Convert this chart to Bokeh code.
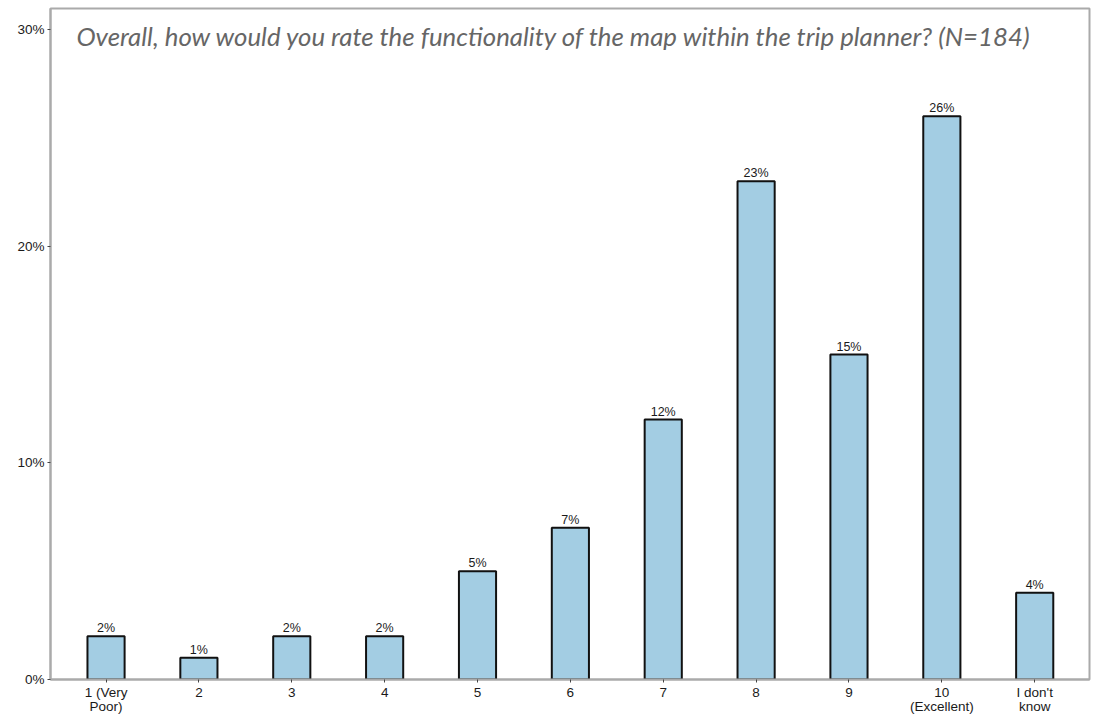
from bokeh.plotting import figure
from bokeh.models import ColumnDataSource, Range1d, FixedTicker, Label, LabelSet
from bokeh.core.properties import value
from bokeh.embed import file_html
from bokeh.resources import INLINE

# Survey answers and share of respondents (percent)
categories = ["1 (Very\nPoor)", "2", "3", "4", "5", "6", "7", "8", "9",
              "10\n(Excellent)", "I don't\nknow"]
shares = [2, 1, 2, 2, 5, 7, 12, 23, 15, 26, 4]
y_ticks = [0, 10, 20, 30]
title_text = "Overall, how would you rate the functionality of the map within the trip planner? (N=184)"

positions = list(range(1, len(categories) + 1))
source = ColumnDataSource(dict(
    x=positions,
    share=shares,
    label=[f"{v}%" for v in shares],
))

p = figure(width=1094, height=721, output_backend="svg", toolbar_location=None,
           x_range=Range1d(0.402, 11.59), y_range=Range1d(0, 30.97),
           min_border_left=50, min_border_right=5, min_border_top=8, min_border_bottom=42)

p.vbar(x="x", top="share", width=0.4, bottom=0, source=source,
       fill_color="#a3cde3", line_color="#111111", line_width=2)

p.add_layout(LabelSet(x="x", y="share", text="label", source=source,
                      text_align="center", text_baseline="bottom", y_offset=1,
                      text_font=value("Liberation Sans"), text_font_size=value("12.5px"),
                      text_color="#1a1a1a"))

p.add_layout(Label(x=26, y=659, x_units="screen", y_units="screen",
                   text=title_text, text_font="Lato", text_font_style="italic",
                   text_font_size="25.8px", text_color="#666666",
                   text_baseline="top"))

# Frame and grid
p.xgrid.visible = False
p.ygrid.visible = False
p.outline_line_color = "#aaaaaa"
p.outline_line_width = 2
p.background_fill_color = "white"
p.border_fill_color = "white"

# Axes
p.xaxis.ticker = FixedTicker(ticks=positions)
p.xaxis.major_label_overrides = {x: c for x, c in zip(positions, categories)}
p.yaxis.ticker = FixedTicker(ticks=y_ticks)
p.yaxis.major_label_overrides = {t: f"{t}%" for t in y_ticks}

for ax in (p.xaxis[0], p.yaxis[0]):
    ax.axis_line_color = "#aaaaaa"
    ax.axis_line_width = 2
    ax.major_tick_line_color = "#444444"
    ax.major_tick_in = 0
    ax.major_tick_out = 3
    ax.minor_tick_line_color = None
    ax.major_label_text_font = "Liberation Sans"
    ax.major_label_text_color = "#1a1a1a"
    ax.major_label_standoff = 3

p.yaxis.major_label_text_font_size = "13.5px"
p.xaxis.major_label_text_font_size = "13.5px"
p.xaxis.major_label_text_line_height = 0.95
p.xaxis.major_label_standoff = 2

open("out.html", "w").write(file_html(p, INLINE))
